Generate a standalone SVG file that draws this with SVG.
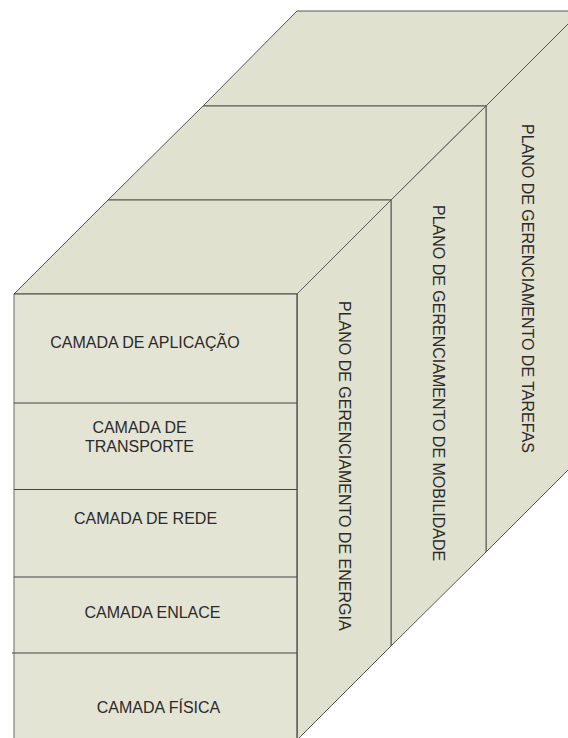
<svg xmlns="http://www.w3.org/2000/svg" width="568" height="738" viewBox="0 0 568 738">
<style>
.face{fill:#e1e1cf;stroke:#555;stroke-width:1;stroke-linejoin:miter}
.front{fill:#e4e4d5;stroke:none}
.edge{stroke:#444;stroke-width:1.2;fill:none}
.ledge{stroke:#808080;stroke-width:1.2;fill:none}
.lbl{font-family:"Liberation Sans",Arial,sans-serif;font-size:16px;fill:#2a2a2a}
</style>
<rect width="568" height="738" fill="#ffffff"/>
<g id="plano-tarefas">
<polygon class="face" points="297,11 581,11 486,106 203,106"/>
<polygon class="face" points="486,106 581,11 581,457 486,552"/>
<text class="lbl" transform="translate(522,124) rotate(90)">PLANO DE GERENCIAMENTO DE TAREFAS</text>
</g>
<g id="plano-mobilidade">
<polygon class="face" points="203,106 486,106 391,200 108,200"/>
<polygon class="face" points="391,200 486,106 486,552 391,646"/>
<text class="lbl" transform="translate(433,205) rotate(90)">PLANO DE GERENCIAMENTO DE MOBILIDADE</text>
</g>
<g id="plano-energia">
<polygon class="face" points="108,200 391,200 297,294 14,294"/>
<polygon class="face" points="297,294 391,200 391,646 297,740"/>
<text class="lbl" transform="translate(339,301) rotate(90)">PLANO DE GERENCIAMENTO DE ENERGIA</text>
</g>
<g id="front-face">
<rect class="front" x="14" y="294" width="283" height="446"/>
<line class="ledge" x1="14" y1="294" x2="14" y2="738"/>
<line class="edge" x1="14" y1="294" x2="297" y2="294"/>
<line class="edge" x1="297" y1="294" x2="297" y2="740"/>
</g>
<g id="camada-aplicacao">
<text class="lbl" x="145" y="348" text-anchor="middle">CAMADA DE APLICAÇÃO</text>
</g>
<g id="camada-transporte">
<line class="edge" x1="14" y1="403" x2="297" y2="403"/>
<text class="lbl" x="139.5" y="433" text-anchor="middle">CAMADA DE</text>
<text class="lbl" x="139.5" y="452" text-anchor="middle">TRANSPORTE</text>
</g>
<g id="camada-rede">
<line class="edge" x1="14" y1="489.5" x2="297" y2="489.5"/>
<text class="lbl" x="145.5" y="524" text-anchor="middle">CAMADA DE REDE</text>
</g>
<g id="camada-enlace">
<line class="edge" x1="14" y1="577" x2="297" y2="577"/>
<text class="lbl" x="152.5" y="618" text-anchor="middle">CAMADA ENLACE</text>
</g>
<g id="camada-fisica">
<line class="edge" x1="12" y1="653" x2="297" y2="653"/>
<text class="lbl" x="158.5" y="713" text-anchor="middle">CAMADA FÍSICA</text>
</g>
<g id="connectors"></g>
</svg>
